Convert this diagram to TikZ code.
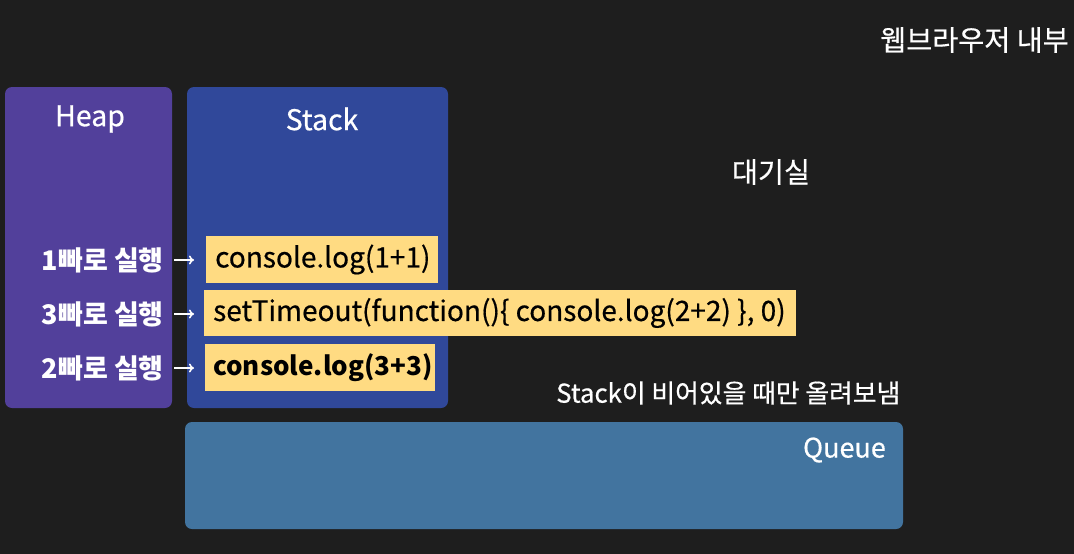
\documentclass[tikz,border=0pt]{standalone}
\usepackage{fontspec}
\setmainfont{Noto Sans CJK KR}
\newfontfamily\medfont{Noto Sans CJK KR}[FakeBold=0.5]
\usetikzlibrary{positioning,arrows.meta}

\definecolor{bgdark}{HTML}{1E1E1E}
\definecolor{heapcol}{HTML}{52409B}
\definecolor{stackcol}{HTML}{30489A}
\definecolor{queuecol}{HTML}{42749F}
\definecolor{codecol}{HTML}{FFDB82}

\tikzset{
  area/.style={rounded corners=7pt, inner sep=0pt},
  codebox/.style={fill=codecol, text=black, anchor=west, inner sep=0pt,
    font=\medfont\fontsize{28}{28}\selectfont},
  runlabel/.style={text=white, anchor=east, inner sep=0pt,
    font=\bfseries\fontsize{27}{27}\selectfont},
  title/.style={text=white, font=\medfont\fontsize{28.5}{28.5}\selectfont},
  note/.style={text=white, font=\medfont\fontsize{28.3}{28.3}\selectfont}
}

\begin{document}
\begin{tikzpicture}[x=1pt, y=-1pt]

    % 배경
    \fill[bgdark] (0,0) rectangle (1074,554);
    \useasboundingbox (0,0) rectangle (1074,554);

    % Heap, Stack, Queue
    \fill[heapcol, area] (5,87) rectangle (172,408);
    \fill[stackcol, area] (187,87) rectangle (448,408);
    \fill[queuecol, area] (185,422) rectangle (903,529);

    \node[title] (heap) at (90,119) {Heap};
    \node[title] (stack) at (322,119) {Stack};
    \node[title, anchor=east, inner sep=0pt, font=\medfont\fontsize{27}{27}\selectfont] (queue) at (886,450) {Queue};

    % 코드 상자
    \node[codebox, minimum height=47pt] (c1) at (206,259.5) {\makebox[232pt][l]{\hspace*{9pt}console.log(1+1)}};
    \node[codebox, minimum height=46pt] (c2) at (204,313) {\makebox[592pt][l]{\hspace*{9pt}setTimeout(function()\{ console.log(2+2) \}, 0)}};
    \node[codebox, minimum height=47pt, font=\bfseries\fontsize{26}{26}\selectfont] (c3) at (205,367.5) {\makebox[230pt][l]{\hspace*{8pt}console.log(3+3)}};

    % 실행 순서
    \node[runlabel] (r1) at (164,260) {1빠로 실행};
    \node[runlabel] (r3) at (164,314) {3빠로 실행};
    \node[runlabel] (r2) at (164,368) {2빠로 실행};

    \draw[white, line width=1.6pt, -{To[length=5pt,width=9pt]}, shorten <=10pt, shorten >=12pt] (r1.east) -- (r1.east -| c1.west);
    \draw[white, line width=1.6pt, -{To[length=5pt,width=9pt]}, shorten <=10pt, shorten >=10pt] (r3.east) -- (r3.east -| c2.west);
    \draw[white, line width=1.6pt, -{To[length=5pt,width=9pt]}, shorten <=10pt, shorten >=11pt] (r2.east) -- (r2.east -| c3.west);

    % 글자
    \node[note] (wait) at (771,172) {대기실};
    \node[note, anchor=east, inner sep=0pt] (browser) at (1069,40) {웹브라우저 내부};
    \node[note, anchor=west, inner sep=0pt, font=\medfont\fontsize{25.8}{25.8}\selectfont] (onlyempty) at (556,393) {Stack이 비어있을 때만 올려보냄};

  \end{tikzpicture}
\end{document}
